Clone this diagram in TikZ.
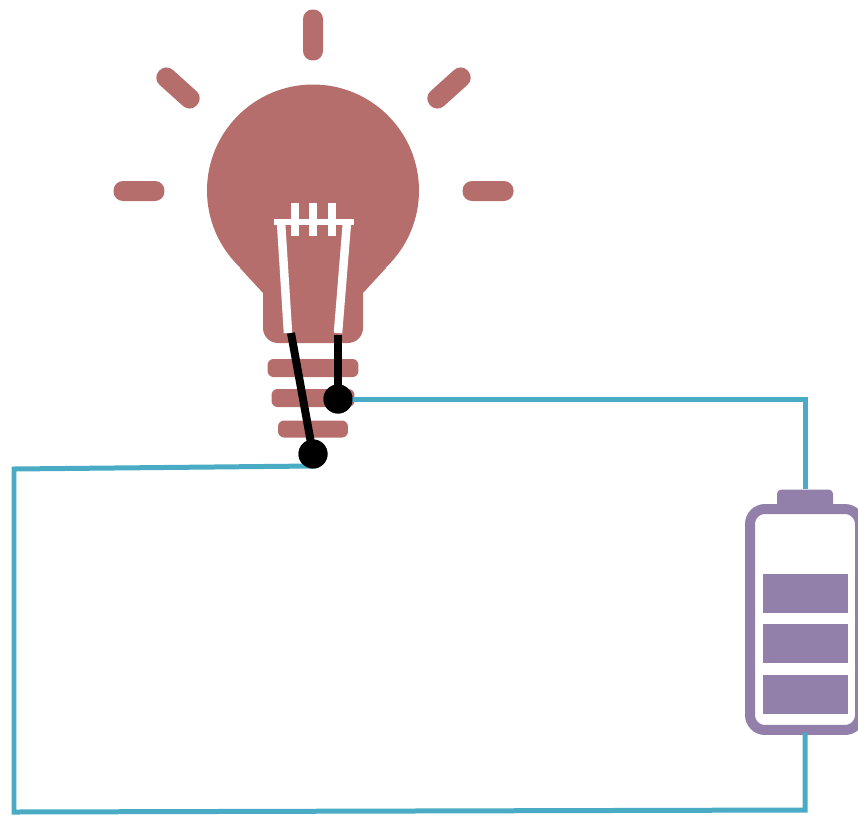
\documentclass[tikz,border=0pt]{standalone}
\usepackage{xcolor}
\usetikzlibrary{positioning}
\definecolor{BulbRed}{RGB}{181,110,108}
\definecolor{CellPurple}{RGB}{146,128,171}
\definecolor{WireBlue}{RGB}{74,171,196}
\tikzset{
  ray/.style={fill=BulbRed, rounded corners=0.19cm, inner sep=0pt, minimum width=1.02cm, minimum height=0.4cm},
  basebar/.style={fill=BulbRed, rounded corners=0.12cm, inner sep=0pt, minimum height=0.36cm},
  glass/.style={draw=white, line width=0.17cm},
  wire/.style={draw=WireBlue, line width=0.1cm},
  lead/.style={draw=black, line width=0.16cm},
  terminal/.style={circle, fill=black, inner sep=0pt, minimum size=0.58cm},
  cellbar/.style={fill=CellPurple, inner sep=0pt, minimum width=1.7cm, minimum height=0.78cm},
}
\begin{document}
\begin{tikzpicture}[x=0.02cm, y=-0.02cm]
  \useasboundingbox (0,0) rectangle (858,815);
  % bulb
  \fill[BulbRed] (313,190.5) circle[radius=106];
  \fill[BulbRed] (240,268) -- (263,293) [rounded corners=0.3cm] -- (263,343) -- (363,343) [sharp corners] -- (363,293) -- (386,268) -- cycle;
  \foreach \x/\y/\a in {139/191/0, 488/191/0, 313/35/90, 178/88/-42, 449/88/42}
    \node[ray, rotate=\a] (ray\x) at (\x,\y) {};
  \foreach \x in {295,313,332}
    \draw[draw=white, line width=0.15cm] (\x,203) -- (\x,236);
  \draw[glass] (288,333) -- (281,222);
  \draw[glass] (338,333) -- (347,222);
  \draw[draw=white, line width=0.11cm] (274,222) -- (354,222);
  \node[basebar, minimum width=1.82cm] (bar1) at (313,368) {};
  \node[basebar, minimum width=1.66cm] (bar2) at (313,398) {};
  \node[basebar, minimum width=1.4cm, minimum height=0.34cm] (bar3) at (313,429) {};
  % battery
  \node[draw=CellPurple, line width=0.2cm, rounded corners=0.3cm, fill=white, inner sep=0pt,
    minimum width=2.2cm, minimum height=4.42cm] (cell) at (805,619.5) {};
  \node[fill=CellPurple, rounded corners=0.08cm, inner sep=0pt, minimum width=1.12cm, minimum height=0.38cm,
    above=-0.1cm of cell.north] (cap) {};
  \node[cellbar] (lvl3) at (805.5,694.5) {};
  \node[cellbar, above=0.22cm of lvl3] (lvl2) {};
  \node[cellbar, above=0.22cm of lvl2] (lvl1) {};
  % circuit
  \node[terminal] (lampA) at (313,454) {};
  \node[terminal] (lampB) at (338,399) {};
  \coordinate (tl) at (14,469);
  \coordinate (bl) at (14,812);
  \coordinate (br) at (805,810);
  \coordinate (lampAw) at (313,466);
  \draw[wire] (lampB.center) -- (lampB -| cap) -- (cap.north);
  \draw[wire, line cap=rect] (cell.south) -- (br) -- (bl) -- (tl) -- (lampAw);
  \draw[lead] (291,333) -- (lampA.center);
  \draw[lead] (338,335) -- (lampB.center);
  \node[terminal] at (lampA) {};
  \node[terminal] at (lampB) {};
\end{tikzpicture}
\end{document}
